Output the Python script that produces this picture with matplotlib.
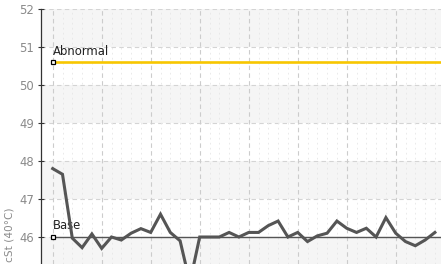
import numpy as np
import matplotlib.pyplot as plt

# viscosity readings, one per sample
values = [47.8, 47.65, 45.97, 45.72, 46.08, 45.7, 46.0, 45.92, 46.1, 46.22,
          46.12, 46.6, 46.12, 45.9, 44.8, 46.0, 46.0, 46.0, 46.12, 46.0,
          46.12, 46.12, 46.3, 46.42, 46.0, 46.12, 45.88, 46.03, 46.1, 46.42,
          46.23, 46.12, 46.23, 46.0, 46.51, 46.1, 45.88, 45.77, 45.92, 46.12]
base = 46.0
abnormal = 50.6
yticks = [46, 47, 48, 49, 50, 51, 52]

x = np.arange(len(values))

fig = plt.figure(figsize=(4.41, 2.64), dpi=100)
ax = fig.add_axes([41/441, 0, 1 - 41/441, 1 - 9/264])

ymin, ymax = 46 - 27/38, 52
xmin, xmax = -11.7/9.8, (441 - 52.7)/9.8
ax.set_xlim(xmin, xmax)
ax.set_ylim(ymin, ymax)

# alternating bands
for lo in range(45, 52, 2):
    ax.axhspan(lo, lo + 1, color="#f5f5f5", zorder=0, lw=0)

for yv in yticks:
    ax.axhline(yv, color="#d4d4d4", ls=(0, (4, 3)), lw=0.8, zorder=1)
for xv in range(0, 45, 5):
    ax.axvline(xv, color="#cccccc", ls=(0, (4, 3)), lw=0.8, zorder=1)
for xv in range(0, 45):
    if xv % 5:
        ax.axvline(xv, color="#e6e6e6", ls=(0, (2, 4)), lw=0.6, zorder=1)

ax.plot([0, xmax], [abnormal, abnormal], color="#f7c600", lw=1.9, zorder=3)
ax.plot([0, xmax], [base, base], color="#555555", lw=1.0, zorder=3)
ax.plot(x, values, color="#555555", lw=2.2, zorder=4, solid_joinstyle="miter")

ax.plot([0], [abnormal], marker="s", ms=3.5, mfc="white", mec="black", mew=0.9, zorder=5)
ax.plot([0], [base], marker="s", ms=3.5, mfc="white", mec="black", mew=0.9, zorder=5)
ax.text(0, abnormal + 0.12, "Abnormal", fontsize=8.4, color="#222222", va="bottom", ha="left")
ax.text(0, base + 0.12, "Base", fontsize=8.4, color="#222222", va="bottom", ha="left")

ax.set_yticks(yticks)
ax.set_xticks([])
ax.tick_params(axis="y", direction="inout", length=4, width=0.8, colors="#333333",
               labelcolor="#8a8a8a", labelsize=8.4, pad=3)
for s in ["top", "right", "bottom"]:
    ax.spines[s].set_visible(False)
ax.spines["left"].set_color("#333333")
ax.spines["left"].set_linewidth(0.9)

fig.text(10/441, 2/264, "cSt (40°C)", rotation=90, ha="center", va="bottom",
         fontsize=7.6, color="#8a8a8a")

fig.savefig("out.png", dpi=100)
